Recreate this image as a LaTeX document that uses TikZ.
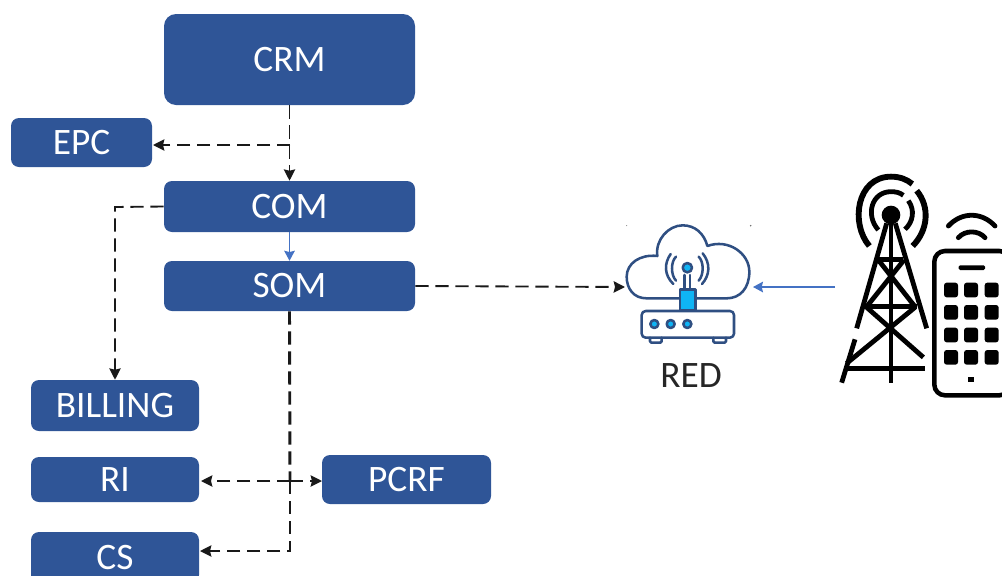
\documentclass[tikz,border=0pt]{standalone}
\usepackage{fontspec}
\setmainfont{Carlito}
\usetikzlibrary{arrows.meta}
\definecolor{boxblue}{HTML}{2F5597}
\definecolor{linkblue}{HTML}{4472C4}
\definecolor{icondark}{HTML}{2F4F82}
\definecolor{iconcyan}{HTML}{0FB4F5}
\tikzset{
  procbox/.style={fill=boxblue,draw=none,rounded corners=6pt,text=white,font=\fontsize{28}{32}\selectfont,inner sep=0pt,anchor=center},
  dashlink/.style={draw=black!90,line width=1.4pt,dash pattern=on 10pt off 5pt,-{Stealth[length=8.5pt,width=8.5pt,inset=1pt]}},
  dashplain/.style={draw=black!90,line width=1.4pt,dash pattern=on 10pt off 5pt},
  bluelink/.style={draw=linkblue,line width=1pt,-{Stealth[length=7.5pt,width=8pt,inset=1pt]}},
  cloudline/.style={draw=icondark,line width=1.9pt,line cap=round,line join=round},
  towerline/.style={draw=black,line width=3.6pt,line cap=butt,line join=round},
  key/.style={fill=black,rounded corners=2pt}
}
\begin{document}
\begin{tikzpicture}[x=0.75pt,y=-0.75pt]
\useasboundingbox (0,0) rectangle (1002,575);
\clip (0,0) rectangle (1002,575);
% boxes
\node[procbox,minimum width=188.25pt,minimum height=68.25pt,rounded corners=9pt] (crm) at (289.5,59.5) {CRM};
\node[procbox,minimum width=105.75pt,minimum height=36.75pt] (epc) at (81.5,142.5) {EPC};
\node[procbox,minimum width=188.25pt,minimum height=38.25pt] (com) at (289.5,206.5) {COM};
\node[procbox,minimum width=188.25pt,minimum height=37.5pt] (som) at (289.5,286) {SOM};
\node[procbox,minimum width=126pt,minimum height=38.25pt] (billing) at (115,405.5) {BILLING};
\node[procbox,minimum width=126pt,minimum height=33.75pt] (ri) at (115,479.5) {RI};
\node[procbox,minimum width=126.75pt,minimum height=36.75pt] (pcrf) at (406.5,479.5) {PCRF};
\node[procbox,minimum width=126pt,minimum height=38.25pt] (cs) at (115,557.5) {CS};
\node[font=\fontsize{28}{32}\selectfont,text=black!85,inner sep=0pt] (red) at (691,376) {RED};
% connector anchors
\coordinate (epcj) at (290,145);
\coordinate (epcin) at (153,145);
\coordinate (billcorner) at (115,207);
\coordinate (rij) at (290,481);
\coordinate (riin) at (201,481);
\coordinate (pcrfin) at (322,481);
\coordinate (cscorner) at (290,551);
\coordinate (csin) at (200,551);
\coordinate (cloudl) at (625,287);
\coordinate (cloudr) at (753,287);
\coordinate (towerl) at (835,287);
% connectors
\draw[dashlink] (crm.south) -- (com.north);
\draw[dashlink] (epcj) -- (epcin);
\draw[dashlink] (com.west) -- (billcorner) -- (billing.north);
\draw[bluelink] (com.south) -- (som.north);
\draw[dashlink] (som.east) -- (cloudl);
\draw[bluelink] (towerl) -- (cloudr);
\draw[dashplain,line width=2.2pt] (som.south) -- (rij);
\draw[dashlink] (rij) -- (riin);
\draw[dashlink] (rij) -- (pcrfin);
\draw[dashlink] (rij) -- (cscorner) -- (csin);
% icons drawn in zoom coordinates (3 units per pixel)
\begin{scope}[shift={(600,160)},x=0.25pt,y=-0.25pt]
  % router and cloud
  \draw[cloudline] (238,415) -- (140,415)
    .. controls (100,415) and (80,385) .. (80,350)
    .. controls (80,310) and (120,282) .. (172,288)
    .. controls (165,240) and (205,196) .. (248,196)
    .. controls (285,196) and (312,220) .. (322,258)
    .. controls (385,235) and (448,280) .. (448,335)
    .. controls (448,385) and (420,415) .. (380,415) -- (288,415);
  \draw[cloudline] (228,290) .. controls (212,305) and (212,345) .. (228,362);
  \draw[cloudline] (212,282) .. controls (192,310) and (192,345) .. (220,372);
  \draw[cloudline] (296,290) .. controls (312,305) and (312,345) .. (296,362);
  \draw[cloudline] (308,280) .. controls (332,310) and (330,345) .. (306,372);
  \draw[cloudline] (254,345) -- (254,385) (270,345) -- (270,385);
  \draw[cloudline,fill=iconcyan] (262,323) circle (14);
  \draw[cloudline,fill=iconcyan] (240,388) rectangle (286,452);
  \draw[cloudline,rounded corners=3pt] (125,453) rectangle (402,533);
  \draw[cloudline,rounded corners=1pt] (150,533) -- (150,548) -- (185,548) -- (185,533);
  \draw[cloudline,rounded corners=1pt] (340,533) -- (340,548) -- (378,548) -- (378,533);
  \draw[cloudline,fill=iconcyan] (163,492) circle (12);
  \draw[cloudline,fill=iconcyan] (212,492) circle (12);
  \draw[cloudline,fill=iconcyan] (262,492) circle (12);
  \fill[black!60] (80,197) circle (1.5) (452,197) circle (2.5);
  % tower
  \fill[black] (873,165) circle (28);
  \draw[towerline,line width=4.4pt] (808,258) .. controls (750,190) and (770,50) .. (873,50) .. controls (900,50) and (920,58) .. (937,72);
  \draw[towerline,line width=4.4pt] (950,92) .. controls (990,140) and (985,210) .. (938,258);
  \draw[towerline] (835,210) .. controls (795,165) and (815,95) .. (873,95) .. controls (888,95) and (900,98) .. (910,106);
  \draw[towerline] (925,122) .. controls (945,150) and (940,185) .. (915,208);
  \draw[towerline] (860,190) -- (770,505);
  \draw[towerline] (886,190) -- (980,505);
  \draw[towerline] (765,538) -- (725,668);
  \draw[towerline] (873,190) -- (873,668);
  \draw[towerline] (835,298) -- (910,298);
  \draw[towerline] (835,300) -- (945,440);
  \draw[towerline] (912,300) -- (800,440);
  \draw[towerline] (795,440) -- (950,440);
  \draw[towerline] (800,442) -- (970,592);
  \draw[towerline] (945,442) -- (740,610);
  \draw[towerline] (735,625) -- (975,625);
  % phone
  \draw[draw=black,line width=3.4pt,rounded corners=8pt] (1003,273) rectangle (1230,706);
  \fill[black,rounded corners=1pt] (1076,316) rectangle (1155,330);
  \foreach \ky in {390,457,525,592}
    \foreach \kx in {1053,1113,1175}
      \fill[key] (\kx-21,\ky-22) rectangle (\kx+21,\ky+22);
  \fill[black] (1105,650) rectangle (1121,667);
  \draw[towerline,line cap=round] (1045,198) .. controls (1085,155) and (1145,155) .. (1185,198);
  \draw[towerline,line cap=round] (1075,233) .. controls (1095,210) and (1135,210) .. (1155,233);
\end{scope}
\end{tikzpicture}
\end{document}
